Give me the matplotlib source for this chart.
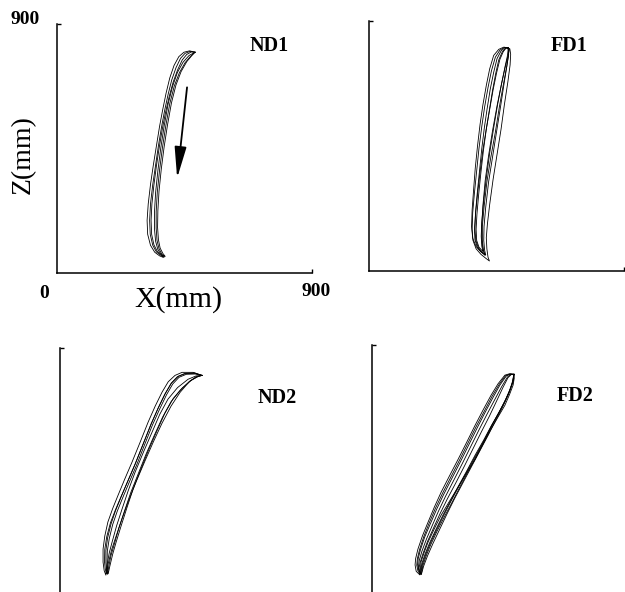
import matplotlib
matplotlib.use("Agg")
import matplotlib.pyplot as plt

# ---------------- data (mm) ----------------
ND1_X = [
    [487,468,448,430,413,398,385,373,362,351,340,330,322,318,320,330,345,362,376,368,356,348,344,344,348,356,366,378,392,408,425,445,466,487],
    [487,470,452,436,420,405,392,380,369,358,348,338,330,327,329,338,351,366,380,370,360,353,350,350,354,362,372,384,398,414,432,452,472,487],
    [487,474,458,442,426,410,396,383,372,361,351,342,335,332,334,342,354,368,382,374,364,358,355,356,360,368,378,390,404,420,438,458,476,487],
]
ND1_Z = [
    [798,803,798,782,750,705,650,590,530,460,390,320,250,190,140,100,75,62,56,66,85,115,160,220,290,370,450,530,610,675,725,762,786,798],
    [798,801,794,776,742,698,645,588,528,460,390,320,250,190,140,100,76,64,58,68,88,118,162,222,292,372,452,532,612,676,724,760,784,798],
    [798,799,790,770,735,690,638,580,522,455,388,318,250,190,140,102,78,66,60,70,90,120,165,225,295,375,455,535,615,680,728,764,786,798],
]

FD1_X = [
    [491,478,462,446,432,420,408,398,388,380,372,366,364,367,378,395,412,425,420,416,414,418,426,438,452,466,478,490,498,500,497,491],
    [491,480,466,452,440,428,417,407,398,390,382,376,374,377,386,400,412,408,405,406,412,422,436,450,464,476,486,492,493,491],
    [491,482,470,458,447,436,425,414,404,395,387,381,378,380,388,402,398,396,398,404,414,426,440,454,468,480,488,491,491],
    [491,476,458,440,426,414,402,392,383,375,369,364,362,366,378,394,408,402,398,398,402,410,422,436,452,468,482,492,496,491],
    [491,484,474,462,450,438,426,414,402,392,383,376,372,374,382,396,410,404,400,400,406,416,430,446,460,474,486,493,491],
]
FD1_Z = [
    [803,805,795,770,720,660,590,520,440,360,280,210,150,110,80,60,46,36,50,80,120,170,240,330,420,510,600,680,742,780,800,803],
    [803,804,792,765,715,655,585,515,440,360,280,210,150,110,84,66,58,75,110,160,230,320,410,500,590,670,735,775,796,803],
    [803,802,788,760,710,650,580,510,435,355,275,205,150,110,86,70,90,125,175,245,335,425,515,600,675,735,772,795,803],
    [803,806,798,776,728,668,598,528,450,370,290,220,160,118,88,70,62,80,115,165,235,325,415,505,595,675,740,780,798,803],
    [803,803,790,762,712,652,582,512,436,356,276,206,150,112,86,68,56,74,110,160,230,320,410,500,590,670,735,780,803],
]

ND2_X = [
    [501,470,431,406,382,360,336,311,283,254,228,205,186,169,158,152,152,156,162,166,174,184,200,219,241,265,295,325,352,381,415,452,480,501],
    [501,474,440,414,392,370,346,321,293,264,238,215,196,180,168,162,162,165,168,172,180,192,208,228,250,276,304,334,362,392,425,458,484,501],
    [501,478,446,420,398,376,352,326,298,270,244,221,202,186,174,167,166,168,170,176,186,198,216,236,258,284,312,342,370,400,432,464,488,501],
    [501,476,445,418,394,372,348,322,294,266,240,216,196,178,165,158,157,160,164,170,182,198,218,242,270,300,330,360,392,424,456,480,501],
]
ND2_Z = [
    [801,812,812,801,778,740,690,632,560,487,425,368,320,271,220,173,126,95,79,116,160,199,258,318,385,451,525,596,660,715,757,787,799,801],
    [801,810,808,796,772,733,682,623,551,478,416,360,312,264,214,168,124,96,82,110,150,192,250,312,378,445,517,587,650,706,748,780,796,801],
    [801,806,805,794,770,731,680,621,549,476,414,358,310,262,212,166,122,95,84,112,155,198,258,322,390,458,530,600,664,718,756,784,797,801],
    [801,808,808,798,774,736,686,627,555,482,420,364,316,268,218,172,128,100,84,120,170,220,280,348,420,492,562,628,690,740,778,796,801],
]

FD2_X = [
    [501,485,469,445,420,392,364,334,304,274,244,220,198,178,162,154,152,156,169,173,184,198,220,244,268,293,328,364,392,420,445,469,485,498,502,501],
    [501,488,474,452,428,400,372,342,312,282,253,228,206,186,171,163,161,165,172,178,190,206,228,252,278,306,336,366,394,420,444,466,484,496,501],
    [501,490,478,458,434,406,378,348,318,288,259,234,212,192,176,167,164,167,174,180,192,208,230,256,284,312,342,372,400,426,450,472,488,498,501],
    [501,491,480,462,440,414,386,356,326,296,266,240,217,196,180,170,166,168,174,182,196,214,238,264,292,322,352,382,410,436,460,480,494,501],
    [501,487,471,449,424,397,368,338,308,278,249,224,202,183,168,160,158,162,170,176,188,204,226,250,276,304,334,364,394,422,448,470,488,499,501],
]
FD2_Z = [
    [794,796,791,760,718,665,610,548,487,428,368,314,260,210,162,128,105,82,69,116,150,188,236,285,326,368,427,487,542,596,640,682,720,755,780,794],
    [794,795,788,756,712,658,602,540,478,418,360,306,254,206,160,128,106,86,74,108,144,184,232,282,334,388,444,500,552,604,648,690,730,765,794],
    [794,794,784,750,704,650,594,532,470,410,352,298,246,198,154,122,100,82,72,104,140,180,228,280,334,390,448,506,560,614,660,704,742,772,794],
    [794,793,782,746,698,642,586,524,462,402,344,290,238,190,146,114,94,78,70,100,138,180,232,288,346,404,462,520,574,626,674,718,760,794],
    [794,795,789,758,715,662,606,544,482,422,364,310,257,208,161,127,104,84,70,110,146,186,234,284,334,388,444,502,556,610,656,698,738,770,794],
]

PANEL_LABELS = ["ND1", "FD1", "ND2", "FD2"]
AXIS_MAX = 900
ARROW_FROM = (459, 671)
ARROW_TO = (424, 343)

SERIF = ["Liberation Serif", "DejaVu Serif"]

fig = plt.figure(figsize=(6.25, 5.92), dpi=100)
fig.patch.set_facecolor("white")

rects = [
    [57/625, (592-273)/592, 255/625, 249/592],
    [369/625, (592-271)/592, 255/625, 250/592],
    [60/625, (592-597)/592, 255/625, 249/592],
    [372/625, (592-594)/592, 255/625, 249/592],
]
data = [(ND1_X, ND1_Z), (FD1_X, FD1_Z), (ND2_X, ND2_Z), (FD2_X, FD2_Z)]
label_pos = [(269, 46), (569, 46), (277, 398), (575, 396)]

axes = []
for i, (r, (XS, ZS)) in enumerate(zip(rects, data)):
    ax = fig.add_axes(r)
    ax.set_xlim(0, AXIS_MAX)
    ax.set_ylim(0, AXIS_MAX)
    for xs, zs in zip(XS, ZS):
        ax.plot(xs, zs, color="black", lw=0.6)
    ax.spines["top"].set_visible(False)
    ax.spines["right"].set_visible(False)
    ax.spines["left"].set_linewidth(1.1)
    ax.spines["bottom"].set_linewidth(1.1)
    if i >= 2:
        ax.spines["bottom"].set_visible(False)
        ax.set_xticks([])
    else:
        ax.set_xticks([AXIS_MAX])
    ax.set_yticks([AXIS_MAX])
    ax.tick_params(direction="in", length=3, width=1.0, labelbottom=False, labelleft=False)
    ax.set_facecolor("none")
    axes.append(ax)
    lx, ly = label_pos[i]
    fig.text(lx/625, 1 - ly/592, PANEL_LABELS[i], ha="center", va="center",
             fontsize=14.5, fontweight="bold", family=SERIF)

# arrow in ND1
axes[0].annotate("", xy=ARROW_TO, xytext=ARROW_FROM,
                 arrowprops=dict(arrowstyle="-|>,head_length=1.9,head_width=0.36",
                                 lw=1.3, color="black", shrinkA=0, shrinkB=0))

# axis annotations for ND1
fig.text(25/625, 1 - 20/592, "900", ha="center", va="center", fontsize=14,
         fontweight="bold", family=SERIF)
fig.text(44/625, 1 - 293/592, "0", ha="center", va="center", fontsize=14,
         fontweight="bold", family=SERIF)
fig.text(316/625, 1 - 292/592, "900", ha="center", va="center", fontsize=14,
         fontweight="bold", family=SERIF)
fig.text(178/625, 1 - 300/592, "X(mm)", ha="center", va="center", fontsize=21.5,
         family=SERIF)
fig.text(23/625, 1 - 155/592, "Z(mm)", ha="center", va="center", fontsize=20,
         rotation=90, family=SERIF)

fig.savefig("out.png", dpi=100, facecolor="white")
